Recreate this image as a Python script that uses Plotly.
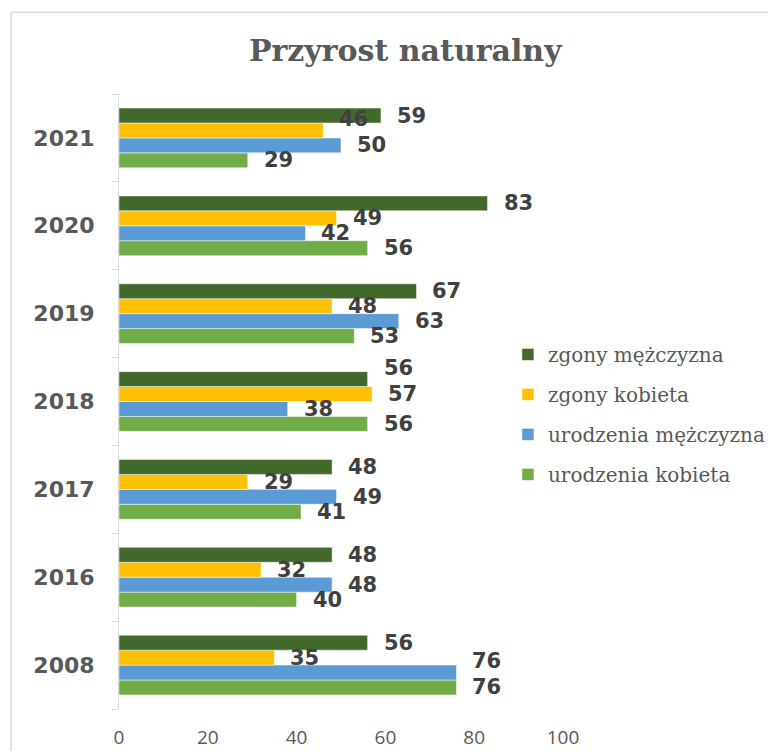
import plotly.graph_objects as go

years = ["2008", "2016", "2017", "2018", "2019", "2020", "2021"]
urodzenia_kobieta = [76, 40, 41, 56, 53, 56, 29]
urodzenia_mezczyzna = [76, 48, 49, 38, 63, 42, 50]
zgony_kobieta = [35, 32, 29, 57, 48, 49, 46]
zgony_mezczyzna = [56, 48, 48, 56, 67, 83, 59]

# drawn bottom-to-top inside each year; legend lists them top-to-bottom
series = [
    ("urodzenia kobieta", urodzenia_kobieta, "#70AD47"),
    ("urodzenia mężczyzna", urodzenia_mezczyzna, "#5B9BD5"),
    ("zgony kobieta", zgony_kobieta, "#FFC000"),
    ("zgony mężczyzna", zgony_mezczyzna, "#43682B"),
]

GREY = "#595959"
W, H = 776, 751
# page body adds ~8px offset, so margins are pulled in by 8
M = dict(l=111, r=221, t=86, b=50)
BARGAP = 0.32
XMAX = 100

fig = go.Figure()
for i, (name, vals, color) in enumerate(series):
    fig.add_trace(go.Bar(
        y=years, x=vals, orientation="h", name=name,
        legendgroup=name, legendrank=len(series) - i,
        marker=dict(color=color, line=dict(color="white", width=0.5)),
    ))

# data labels, nudged upward when they would collide (like Excel does)
plot_w = W - M["l"] - M["r"]
plot_h = H - M["t"] - M["b"]
px_per_unit = plot_w / XMAX
bar_h = plot_h / len(years) * (1 - BARGAP) / len(series)
gap, digit_w, min_sep = 14, 14.6, 26
for k, yr in enumerate(years):
    placed = []
    for i, (name, vals, color) in enumerate(series):
        v = vals[k]
        x0 = v * px_per_unit + gap
        x1 = x0 + len(str(v)) * digit_w
        y = (i - (len(series) - 1) / 2) * bar_h
        for px0, px1, py in placed:
            if x0 < px1 and px0 < x1:
                y = max(y, py + min_sep)
        placed.append((x0, x1, y))
        # k = category index of this year on the y axis
        fig.add_annotation(
            x=v, y=k, xref="x", yref="y", text=str(v), showarrow=False,
            xanchor="left", yanchor="middle", xshift=gap, yshift=y,
            font=dict(family="DejaVu Sans", size=21, color="#404040", weight="bold"),
        )

fig.update_layout(
    width=W, height=H,
    paper_bgcolor="white", plot_bgcolor="white",
    margin=dict(**M, autoexpand=False),
    barmode="group", bargap=BARGAP, bargroupgap=0,
    title=dict(text="<b>Przyrost naturalny</b>", xref="container", yref="container",
               x=0.512, y=0.944, xanchor="center", yanchor="middle",
               font=dict(family="DejaVu Serif", size=30, color=GREY)),
    legend=dict(x=0.876, xanchor="left", y=0.479, yanchor="middle",
                traceorder="grouped", tracegroupgap=11,
                font=dict(family="DejaVu Serif", size=20, color=GREY),
                bgcolor="rgba(0,0,0,0)"),
    xaxis=dict(range=[0, XMAX], dtick=20, showgrid=False, zeroline=False,
               showline=False, ticks="", ticklabelstandoff=15, automargin=False,
               tickfont=dict(family="Open Sans", size=19, color=GREY)),
    yaxis=dict(type="category", categoryorder="array", categoryarray=years,
               range=[-0.5, len(years) - 0.5],
               showgrid=False, zeroline=False, automargin=False,
               showline=True, linecolor="#D9D9D9", linewidth=1,
               ticks="outside", tickson="boundaries", ticklen=6, tickcolor="#D9D9D9",
               ticklabelstandoff=19,
               tickfont=dict(family="DejaVu Sans", size=22, color=GREY, weight="bold")),
    shapes=[dict(type="rect", xref="paper", yref="paper",
                 x0=-0.243, x1=1.6, y0=-0.2, y1=1.133,
                 line=dict(color="#D9D9D9", width=1.5), layer="below")],
)

fig.write_html("out.html")
